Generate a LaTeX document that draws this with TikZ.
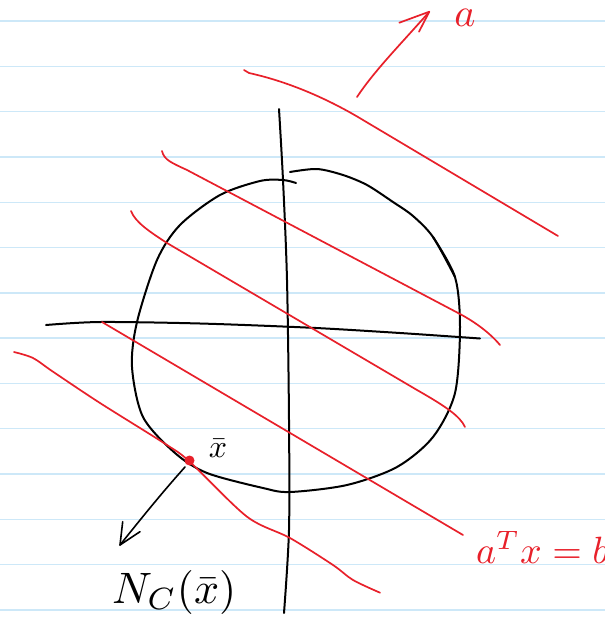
\documentclass[tikz,border=0pt]{standalone}
\definecolor{pen}{HTML}{E8202A}
\definecolor{ruling}{HTML}{CDE8F8}
\begin{document}
\begin{tikzpicture}[x=1pt,y=-1pt,
  ink/.style={draw=black,line width=2pt,line cap=round,line join=round},
  redink/.style={draw=pen,line width=1.7pt,line cap=round,line join=round},
  rulingline/.style={draw=ruling,line width=1.4pt},
  lbl/.style={inner sep=0pt,outer sep=0pt}]
\useasboundingbox (0,0) rectangle (605,619);
\fill[white] (0,0) rectangle (605,619);
% notebook ruling
\foreach \k in {0,...,13}
  \draw[rulingline] (0,{21+45.3*\k}) -- (605,{21+45.3*\k});
% axes
\draw[ink] plot[smooth] coordinates {(279,109) (283,180) (287,280) (289,420) (289,530) (284,613)};
\draw[ink] plot[smooth] coordinates {(46,325) (100,322) (200,323.5) (310,327.7) (400,333) (480,338.5)};
% convex set C (two strokes)
\draw[ink] plot[smooth] coordinates {(296,183) (283,180) (260,181) (220,195) (180,225) (157,260) (137,322) (132,367) (143,417) (175,453) (207,473) (263,488) (290,492) (347,485) (397,467) (433,437) (455,393) (460,327) (455,277) (433,237)};
\draw[ink] plot[smooth] coordinates {(455,277) (433,237) (413,216) (393,202) (367,185) (343,175) (317,169) (290,172)};
% hyperplanes a^T x = b
\draw[redink] (244,70) -- (249,73) .. controls (290,82) and (330,100) .. (363,120) -- (558,236);
\draw[redink] (162,151) .. controls (164,160) and (172,163) .. (187,170) -- (460,314) .. controls (475,322) and (490,333) .. (500,345);
\draw[redink] (131,211) .. controls (135,222) and (150,232) .. (167,243) -- (417,390) .. controls (445,406) and (460,416) .. (465,427);
\draw[redink] (102,322) -- (463,535);
\draw[redink] plot[smooth,tension=0.5] coordinates {(14,352) (33,358) (53,371.7) (100,403) (167,445) (190,462) (247,516.7) (290,538) (333,565) (353,580) (380,592.7)};
% point xbar
\coordinate (xb) at (189.5,460.5);
\fill[pen] (xb) circle (5);
% normal cone arrow
\coordinate (ncs) at (185,467);
\coordinate (nct) at (120,545);
\draw[ink,line width=1.6pt] (ncs) .. controls (160,495) and (140,520) .. (nct);
\draw[ink,line width=1.6pt] (122.7,521.7) -- (nct) -- (140,531.7);
% vector a
\coordinate (as) at (357,97);
\coordinate (at) at (429.3,11.7);
\draw[redink] (as) .. controls (375,70) and (400,45) .. (at);
\draw[redink] (399.3,22.7) -- (at) -- (419,31.7);
% labels
\node[lbl,pen,anchor=center,scale=4] (alab) at (465,18) {$a$};
\node[lbl,anchor=base,scale=3.2] (xlab) at (218,457) {$\bar x$};
\node[lbl,anchor=base west,scale=4.4] (nlab) at (112,603) {$N_C(\bar x)$};
\node[lbl,pen,anchor=base west,scale=3.8] (hlab) at (476,563) {$a^T x = b$};
\end{tikzpicture}
\end{document}
